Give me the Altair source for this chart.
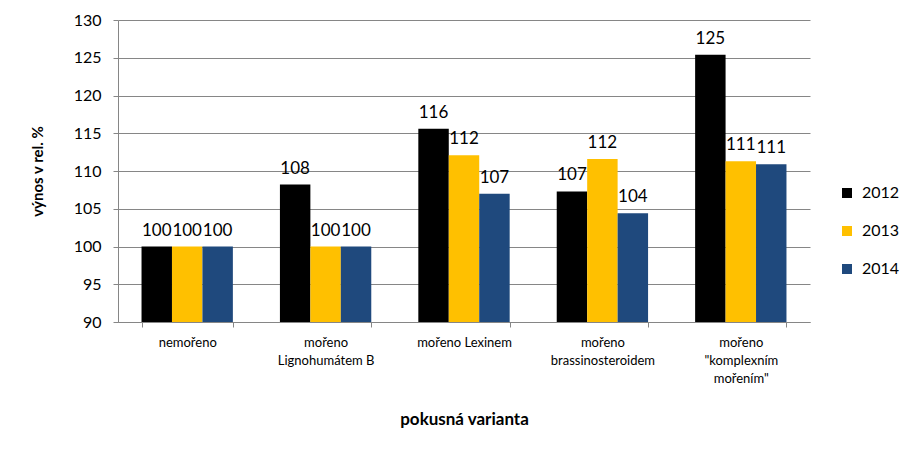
import altair as alt
import pandas as pd

# chart data
categories = [
    "nemořeno",
    "mořeno\nLignohumátem B",
    "mořeno Lexinem",
    "mořeno\nbrassinosteroidem",
    "mořeno\n\"komplexním\nmořením\"",
]
years = ["2012", "2013", "2014"]
v2012 = [100, 108.2, 115.6, 107.3, 125.4]
v2013 = [100, 100, 112.1, 111.6, 111.3]
v2014 = [100, 100, 107.0, 104.4, 110.9]
y_ticks = [90, 95, 100, 105, 110, 115, 120, 125, 130]
colors = ["#000000", "#FFC000", "#1F497D"]

rows = []
for year, vals in zip(years, [v2012, v2013, v2014]):
    for cat, v in zip(categories, vals):
        rows.append({"varianta": cat, "rok": year, "vynos": v})
df = pd.DataFrame(rows)

font = "Lato"
gray = "#868686"

base = alt.Chart(df).encode(
    x=alt.X(
        "varianta:N",
        sort=categories,
        scale=alt.Scale(paddingInner=0.34, paddingOuter=0.17),
        axis=alt.Axis(
            title="pokusná varianta",
            labelAngle=0,
            labelExpr="split(datum.label, '\\n')",
            labelFontSize=13,
            labelLineHeight=18,
            labelPadding=9,
            labelBaseline="top",
            tickBand="extent",
            tickSize=5,
            grid=False,
            titleFontSize=17,
            titlePadding=26,
        ),
    ),
    xOffset=alt.XOffset("rok:N", sort=years, scale=alt.Scale(paddingInner=0, paddingOuter=0)),
    y=alt.Y(
        "vynos:Q",
        scale=alt.Scale(domain=[90, 130], zero=False, nice=False),
        axis=alt.Axis(
            title="výnos v rel. %",
            values=y_ticks,
            labelOverlap=False,
            labelFontSize=16,
            labelPadding=12,
            tickSize=5,
            titleFontSize=15,
            titlePadding=28,
        ),
    ),
)

bars = base.mark_bar().encode(
    y2=alt.datum(90),
    color=alt.Color(
        "rok:N",
        scale=alt.Scale(domain=years, range=colors),
        legend=alt.Legend(
            title=None,
            orient="none",
            legendX=721,
            legendY=165,
            symbolType="square",
            symbolSize=100,
            symbolStrokeWidth=0,
            labelFont=font,
            labelFontSize=16,
            labelOffset=7,
            rowPadding=22,
            padding=0,
        ),
    ),
)

labels = base.mark_text(baseline="bottom", dy=-7, fontSize=17, font=font, color="black").encode(
    text=alt.Text("vynos:Q", format=".0f"),
)

chart = alt.layer(bars, labels).properties(
    width=692,
    height=302,
    autosize=alt.AutoSizeParams(type="none"),
    padding={"left": 110, "top": 12, "right": 99, "bottom": 132},
).configure_view(
    stroke=None
).configure_axis(
    labelFont=font,
    titleFont=font,
    labelColor="black",
    titleColor="black",
    titleFontWeight="bold",
    domainColor=gray,
    tickColor=gray,
    gridColor=gray,
)

chart.save("out.html", embed_options={"renderer": "svg", "actions": False})
